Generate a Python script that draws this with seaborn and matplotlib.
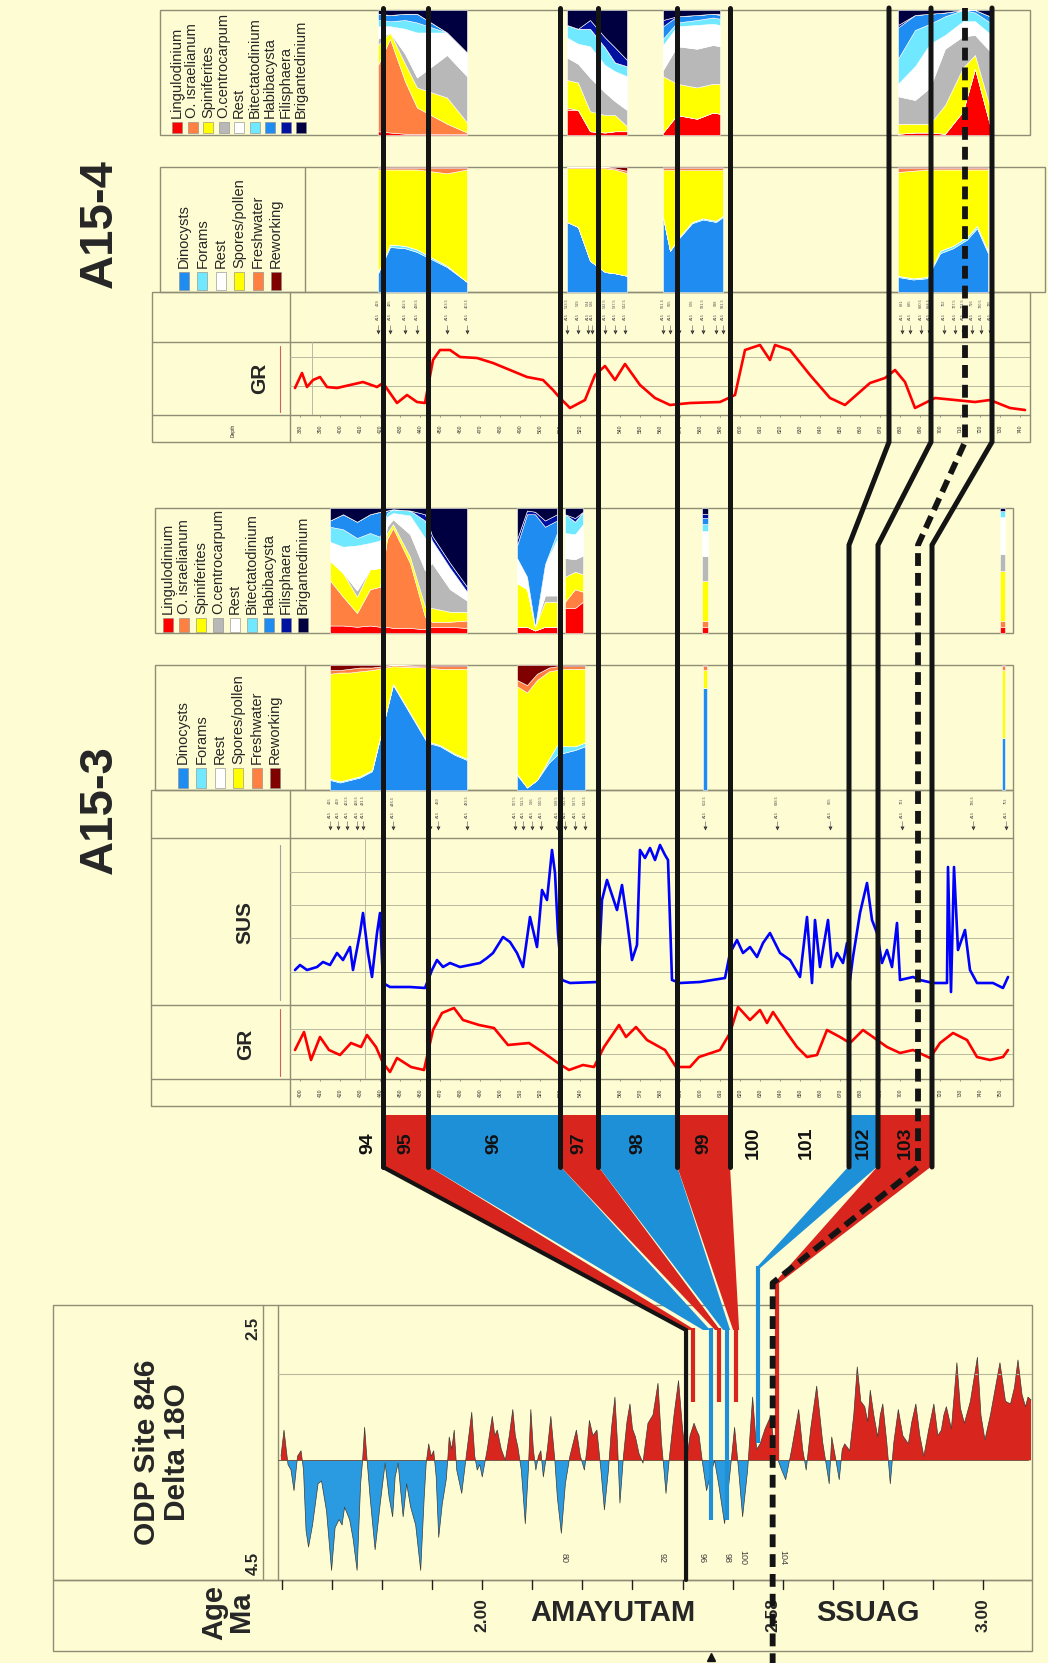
import numpy as np
import matplotlib
matplotlib.use("Agg")
import matplotlib.pyplot as plt
import seaborn as sns
from matplotlib.patches import Rectangle, Polygon
from matplotlib import font_manager as fm

# ======================= DATA =======================
SPECIES = ['Lingulodinium', 'O. israelianum', 'Spiniferites', 'O.centrocarpum', 'Rest',
           'Bitectatodinium', 'Habibacysta', 'Filisphaera', 'Brigantedinium']
SPECIES_COLORS = ['#FF0000', '#FF8040', '#FFFF00', '#B8B8B8', '#FFFFFF',
                  '#70E8FF', '#1E8CF0', '#0010A0', '#000040']
GROUPS = ['Dinocysts', 'Forams', 'Rest', 'Spores/pollen', 'Freshwater', 'Reworking']
GROUP_COLORS = ['#1E8CF0', '#70E8FF', '#FFFFFF', '#FFFF00', '#FF8040', '#800000']

# ---- A15-4 dinocyst species (%), per sampled interval ----
A154_SP_DEPTH = [[419, 425, 432.5, 438.5, 453.5, 463.5],
                 [513.5, 519, 525, 532.5, 537.5, 543.5],
                 [561.5, 568.5, 578.5, 586.5, 590],
                 [679, 687.5, 695, 702.5, 711.5, 717.5, 725]]
A154_SP_PCT = [
    [[3, 53, 16, 5, 10, 5, 5, 0, 3], [2, 75, 5, 0, 5, 4, 5, 0, 4], [1, 42, 14, 8, 20, 7, 5, 0, 3],
     [1, 21, 16, 8, 36, 8, 7, 0, 3], [1, 8, 21, 34, 18, 0, 0, 0, 18], [1, 1, 8, 37, 19, 0, 0, 0, 34]],
    [[20, 2, 22, 18, 16, 10, 0, 0, 12], [20, 0, 22, 15, 16, 12, 0, 0, 15], [3, 0, 16, 27, 25, 14, 0, 7, 8],
     [2, 0, 14, 18, 22, 14, 0, 8, 22], [3, 0, 13, 11, 24, 7, 0, 12, 30], [3, 0, 4, 13, 27, 8, 0, 5, 40]],
    [[2, 0, 45, 5, 20, 5, 10, 5, 8], [16, 0, 25, 30, 16, 3, 5, 0, 5], [13, 0, 25, 31, 19, 4, 4, 0, 4],
     [18, 0, 23, 31, 17, 5, 3, 0, 3], [17, 0, 24, 30, 17, 5, 3, 1, 3]],
    [[1, 0, 8, 22, 10, 20, 25, 2, 12], [2, 0, 7, 19, 27, 29, 12, 0, 4], [2, 0, 7, 29, 35, 16, 8, 0, 3],
     [1, 0, 23, 45, 11, 15, 3, 0, 2], [19, 0, 35, 25, 12, 9, 0, 0, 0], [53, 0, 11, 16, 11, 7, 2, 0, 0],
     [8, 0, 14, 45, 14, 9, 5, 0, 5]],
]
# ---- A15-4 palynomorph groups (%) ----
A154_PAL_DEPTH = [[419, 425, 432.5, 438.5, 453.5, 463.5],
                  [513.5, 519, 525, 532.5, 537.5, 543.5],
                  [561.5, 565, 569.5, 576, 581.5, 588, 591.5],
                  [679, 686.5, 693.5, 700, 706.5, 713.5, 718.5, 724]]
A154_PAL_PCT = [
    [[15, 1, 0, 82, 1, 1], [36, 2, 0, 60, 1, 1], [35, 2, 0, 61, 1, 1], [32, 2, 0, 64, 1, 1],
     [20, 1, 0, 74, 4, 1], [8, 0, 0, 90, 1, 1]],
    [[56, 0, 0, 43, 1, 0], [52, 0, 0, 47, 1, 0], [25, 0, 0, 74, 1, 0], [16, 0, 0, 83, 1, 0],
     [15, 0, 0, 83, 1, 1], [13, 0, 0, 82, 2, 3]],
    [[60, 0, 0, 38, 1, 1], [33, 0, 0, 65, 1, 1], [43, 1, 0, 54, 1, 1], [55, 1, 0, 42, 1, 1],
     [58, 1, 0, 39, 1, 1], [56, 1, 0, 41, 1, 1], [60, 1, 0, 37, 1, 1]],
    [[12, 1, 0, 83, 3, 1], [10, 1, 0, 86, 2, 1], [11, 1, 0, 86, 1, 1], [31, 2, 0, 65, 1, 1],
     [35, 2, 0, 61, 1, 1], [42, 2, 0, 54, 1, 1], [51, 2, 0, 45, 1, 1], [31, 2, 0, 65, 1, 1]],
]
A154_SAMPLES = [419, 425, 432.5, 438.5, 453.5, 463.5, 513.5, 519, 524, 526, 532.5, 537.5, 542.5,
                561.5, 565, 569.5, 576, 581.5, 588, 591.5, 681, 685, 690.5, 694.5, 702, 707.5,
                711.5, 716, 720.5, 725]
# ---- A15-4 gamma ray ----
A154_GR_DEPTH = [377.5, 381, 383.5, 386.5, 390, 393.5, 398.5, 405, 411.5, 418.5, 421.5, 428.5, 433.5,
                 438.5, 442.5, 446.5, 450, 455, 460, 468.5, 476.5, 485, 493.5, 501.5, 506.5, 510,
                 515, 522.5, 527.5, 532.5, 537.5, 542.5, 550, 557.5, 565, 575, 590, 597.5, 602.5,
                 610, 615, 617.5, 625, 635, 645, 652.5, 665, 672.5, 677.5, 682.5, 687.5, 697.5,
                 707.5, 717.5, 725, 735, 742.5]
A154_GR_VAL = [54, 84, 56, 70, 76, 56, 54, 60, 66, 56, 64, 24, 40, 26, 24, 110, 130, 130, 116, 114,
               104, 90, 76, 70, 50, 34, 14, 30, 80, 98, 70, 102, 60, 34, 20, 24, 26, 40, 130, 140,
               110, 140, 130, 80, 34, 20, 64, 74, 90, 66, 14, 34, 30, 26, 30, 14, 10]

# ---- A15-3 dinocyst species (%) ----
A153_SP_DEPTH = [[415, 421.5, 428.5, 435, 440, 443.5, 446.5, 455, 462.5, 466, 475, 483.5],
                 [508.5, 513.5, 517.5, 522.5, 528.5],
                 [532.5, 537.5, 541.5],
                 [601, 604],
                 [750, 752.5]]
A153_SP_PCT = [
    [[6, 36, 16, 0, 15, 12, 5, 0, 10], [6, 23, 19, 0, 21, 14, 12, 0, 5], [5, 11, 13, 5, 36, 6, 13, 0, 11],
     [6, 29, 16, 0, 21, 8, 15, 0, 5], [5, 32, 15, 0, 22, 3, 20, 0, 3], [5, 70, 5, 5, 8, 3, 2, 0, 2],
     [4, 80, 3, 4, 5, 3, 0, 0, 1], [4, 52, 5, 18, 15, 4, 0, 0, 2], [3, 10, 8, 29, 26, 14, 0, 5, 5],
     [5, 4, 11, 36, 18, 0, 0, 4, 22], [5, 4, 8, 18, 17, 0, 0, 4, 44], [4, 6, 7, 9, 7, 0, 0, 4, 63]],
    [[5, 0, 35, 0, 20, 0, 10, 5, 25], [5, 0, 30, 0, 10, 0, 50, 3, 2], [2, 0, 3, 0, 0, 0, 90, 2, 3],
     [5, 0, 20, 5, 25, 0, 30, 5, 10], [5, 0, 20, 5, 45, 5, 10, 5, 5]],
    [[20, 5, 20, 15, 20, 15, 0, 0, 5], [20, 15, 14, 10, 20, 10, 0, 3, 8], [25, 8, 14, 15, 25, 10, 0, 0, 3]],
    [[5, 5, 32, 20, 20, 5, 5, 3, 5], [5, 5, 32, 20, 20, 5, 5, 3, 5]],
    [[5, 5, 40, 13, 30, 5, 0, 0, 2], [5, 5, 40, 13, 30, 5, 0, 0, 2]],
]
# ---- A15-3 palynomorph groups (%) ----
A153_PAL_DEPTH = [[415, 420, 425, 430, 436, 446.5, 463.5, 470, 477.5, 483.5],
                  [508.5, 513.5, 518.5, 524.5, 528.5, 532.5, 537.5, 542.5],
                  [601.5, 603.5],
                  [751, 752.5]]
A153_PAL_PCT = [
    [[8, 1, 0, 84, 3, 4], [6, 1, 0, 87, 2, 4], [8, 1, 0, 85, 3, 3], [10, 1, 0, 84, 3, 2],
     [15, 1, 0, 80, 2, 2], [84, 1, 0, 14, 1, 0], [38, 1, 0, 59, 1, 1], [35, 1, 0, 61, 2, 1],
     [28, 1, 0, 68, 2, 1], [24, 1, 0, 72, 2, 1]],
    [[12, 1, 0, 70, 5, 12], [2, 0, 0, 76, 6, 16], [8, 0, 0, 80, 5, 7], [22, 3, 0, 70, 3, 2],
     [28, 8, 0, 60, 3, 1], [30, 5, 0, 62, 2, 1], [32, 3, 0, 62, 2, 1], [35, 3, 0, 59, 2, 1]],
    [[82, 0, 0, 14, 3, 1], [82, 0, 0, 14, 3, 1]],
    [[42, 0, 0, 54, 3, 1], [42, 0, 0, 54, 3, 1]],
]
A153_SAMPLES = [415, 419, 423.5, 428.5, 431.5, 446.5, 465, 469, 483.5, 507.5, 511.5, 516, 520.5,
                528.5, 532.5, 537.5, 542.5, 602.5, 638.5, 665, 701, 736.5, 753]
# ---- A15-3 susceptibility ----
A153_SUS_DEPTH = [397.5, 400, 403.5, 408.5, 411.5, 415, 418.5, 421.5, 425, 426.5, 430, 431.5, 434,
                  436, 438.5, 440, 441.5, 445, 455, 462.5, 466, 468.5, 471.5, 475, 480, 485, 490,
                  493.5, 496.5, 501.5, 505, 508.5, 511.5, 515, 518.5, 521, 523.5, 526, 527.5, 529,
                  531, 535, 549, 551, 553.5, 556, 558.5, 561, 563.5, 566, 568.5, 570, 572.5, 575,
                  577.5, 580, 582.5, 584, 586, 590, 600, 612.5, 615, 618.5, 621.5, 625, 628.5,
                  631.5, 635, 640, 645, 650, 653.5, 656, 657.5, 660, 664, 666, 668.5, 671.5, 673.5,
                  675, 676.5, 680, 683.5, 686, 688.5, 691, 693.5, 696, 698.5, 700, 706.5, 710,
                  716.5, 723.5, 724, 725.5, 727, 729, 732.5, 735, 738.5, 746.5, 751.5, 754]
A153_SUS_VAL = [10.5, 12.0, 10.5, 11.4, 12.9, 12.0, 15.6, 13.5, 17.4, 10.5, 21.6, 27.6, 15.6, 8.4,
                21.6, 27.6, 6.6, 5.4, 5.4, 5.1, 10.5, 13.5, 11.4, 12.6, 11.4, 12.0, 12.6, 14.1, 15.6,
                20.4, 18.9, 15.6, 11.4, 26.4, 17.4, 34.5, 31.5, 46.5, 39.6, 21.6, 7.5, 6.6, 6.9,
                31.5, 37.5, 33.0, 28.5, 36.0, 25.5, 13.5, 18.0, 46.5, 44.1, 47.1, 43.5, 48.0, 45.0,
                43.5, 7.5, 6.6, 6.9, 8.1, 15.6, 19.5, 15.6, 17.4, 14.4, 18.6, 21.6, 15.6, 13.5, 8.4,
                26.4, 6.6, 25.5, 11.4, 25.5, 11.4, 15.6, 12.6, 18.6, 7.5, 14.4, 27.6, 36.6, 25.5,
                21.6, 12.6, 16.5, 11.4, 24.6, 7.5, 8.4, 7.5, 6.6, 6.6, 41.4, 3.9, 41.4, 16.5, 22.5,
                10.5, 6.6, 6.6, 5.1, 8.4]
# ---- A15-3 gamma ray ----
A153_GR_DEPTH = [397.5, 402, 405.5, 410, 414.5, 420, 425.5, 430.5, 433.5, 438, 441.5, 445, 448.5,
                 455.5, 462, 466.5, 471, 477, 481.5, 489.5, 497, 504, 514.5, 522, 529, 534.5,
                 541.5, 547, 552, 559.5, 563, 568, 573.5, 582.5, 588, 595, 599.5, 610, 615, 619,
                 625, 630, 633.5, 636.5, 643.5, 648.5, 653.5, 658.5, 663.5, 670, 675, 681.5,
                 686.5, 693.5, 700, 706.5, 715, 720, 726.5, 733.5, 738.5, 745, 751.5, 754]
A153_GR_VAL = [58, 94, 38, 84, 58, 48, 72, 64, 88, 64, 32, 14, 42, 24, 18, 98, 132, 142, 118, 108,
               102, 68, 72, 52, 32, 18, 28, 24, 64, 108, 84, 104, 78, 58, 24, 24, 44, 58, 92, 144,
               118, 138, 112, 134, 92, 64, 44, 48, 98, 84, 72, 98, 84, 64, 52, 58, 42, 72, 92, 78,
               44, 38, 44, 58]

# ---- ODP Site 846 delta 18O ----
D18O_AGE = [1.598, 1.604, 1.612, 1.618, 1.624, 1.631, 1.638, 1.643, 1.648, 1.653, 1.661, 1.672,
            1.679, 1.689, 1.699, 1.706, 1.714, 1.720, 1.725, 1.735, 1.742, 1.750, 1.757, 1.761,
            1.765, 1.770, 1.776, 1.786, 1.796, 1.806, 1.814, 1.821, 1.826, 1.832, 1.837, 1.842,
            1.849, 1.857, 1.867, 1.877, 1.884, 1.888, 1.893, 1.898, 1.903, 1.908, 1.913, 1.920,
            1.928, 1.931, 1.934, 1.939, 1.944, 1.949, 1.959, 1.968, 1.979, 1.985, 1.990, 1.995,
            2.000, 2.010, 2.020, 2.025, 2.030, 2.038, 2.046, 2.054, 2.061, 2.066, 2.071, 2.078,
            2.086, 2.092, 2.097, 2.102, 2.107, 2.112, 2.117, 2.122, 2.130, 2.137, 2.145, 2.150,
            2.158, 2.166, 2.175, 2.188, 2.196, 2.204, 2.209, 2.214, 2.221, 2.229, 2.237, 2.244,
            2.252, 2.258, 2.265, 2.270, 2.275, 2.282, 2.289, 2.295, 2.300, 2.306, 2.313, 2.321,
            2.326, 2.331, 2.341, 2.351, 2.358, 2.363, 2.367, 2.374, 2.383, 2.392, 2.400, 2.408,
            2.415, 2.423, 2.428, 2.433, 2.440, 2.448, 2.455, 2.464, 2.472, 2.484, 2.494, 2.504,
            2.512, 2.520, 2.530, 2.540, 2.548, 2.555, 2.565, 2.576, 2.584, 2.591, 2.598, 2.606,
            2.618, 2.632, 2.640, 2.647, 2.656, 2.668, 2.680, 2.693, 2.698, 2.705, 2.713, 2.719,
            2.724, 2.734, 2.742, 2.749, 2.756, 2.764, 2.770, 2.775, 2.782, 2.790, 2.795, 2.800,
            2.808, 2.815, 2.822, 2.831, 2.840, 2.851, 2.858, 2.866, 2.874, 2.882, 2.892, 2.902,
            2.910, 2.917, 2.922, 2.927, 2.937, 2.948, 2.955, 2.963, 2.975, 2.989, 2.996, 3.004,
            3.015, 3.025, 3.034, 3.045, 3.055, 3.063, 3.070, 3.078, 3.085, 3.090, 3.096]
D18O_VAL = [3.60, 3.41, 3.66, 3.70, 3.85, 3.60, 3.56, 3.70, 4.14, 4.26, 4.10, 3.80, 3.78, 4.00,
            4.43, 4.12, 4.06, 4.10, 3.97, 4.06, 4.20, 4.43, 3.80, 3.63, 3.39, 3.63, 3.90, 4.28,
            3.95, 3.65, 3.90, 4.04, 3.75, 3.65, 3.85, 4.04, 3.80, 3.97, 4.10, 4.43, 3.90, 3.65,
            3.51, 3.60, 3.56, 3.75, 4.19, 3.95, 3.77, 3.63, 3.46, 3.55, 3.41, 3.70, 3.87, 3.60,
            3.28, 3.60, 3.70, 3.66, 3.75, 3.55, 3.31, 3.45, 3.41, 3.55, 3.63, 3.45, 3.26, 3.45,
            3.53, 3.70, 4.09, 3.70, 3.26, 3.55, 3.70, 3.60, 3.56, 3.75, 3.55, 3.31, 3.63, 3.90,
            4.16, 3.80, 3.60, 3.41, 3.60, 3.70, 3.55, 3.34, 3.45, 3.41, 3.70, 3.99, 3.70, 3.40,
            3.17, 3.50, 3.94, 3.60, 3.35, 3.22, 3.40, 3.46, 3.58, 3.65, 3.50, 3.36, 3.30, 3.07,
            3.50, 3.70, 3.87, 3.60, 3.30, 3.05, 3.40, 3.63, 3.45, 3.36, 3.41, 3.45, 3.65, 3.85,
            3.75, 3.63, 3.80, 4.09, 3.75, 3.39, 3.70, 4.04, 3.70, 3.17, 3.55, 3.51, 3.40, 3.31,
            3.55, 3.63, 3.70, 3.77, 3.55, 3.26, 3.55, 3.70, 3.40, 3.09, 3.50, 3.80, 3.46, 3.60,
            3.77, 3.55, 3.51, 3.56, 3.30, 2.95, 3.20, 3.24, 3.35, 3.12, 3.30, 3.46, 3.30, 3.22,
            3.50, 3.80, 3.50, 3.26, 3.45, 3.51, 3.35, 3.22, 3.45, 3.60, 3.40, 3.22, 3.45, 3.41,
            3.30, 3.24, 3.40, 2.92, 3.25, 3.36, 3.20, 2.88, 3.30, 3.48, 3.30, 3.10, 2.92, 3.20,
            3.22, 3.10, 2.90, 3.15, 3.24, 3.17, 3.19]
D18O_BASE = 3.63
ODP_STAGE_LABELS = ['80', '92', '96', '98', '100', '104']
ODP_STAGE_AGES = [2.163, 2.36, 2.44, 2.49, 2.52, 2.60]

AGE_TICKS = [1.6, 1.7, 1.8, 1.9, 2.0, 2.1, 2.2, 2.3, 2.4, 2.5, 2.6, 2.7, 2.8, 2.9, 3.0, 3.1]
AGE_LABELS = ['2.00', '2.58', '3.00']
AGE_LABEL_POS = [2.00, 2.58, 3.00]
CHRON_LABELS = ['AMAYUTAM', 'SSUAG']
CHRON_POS = [2.26, 2.77]
ARROW_AGE = 2.457

# ---- correlation (MIS boundaries) ----
CORR_A153 = [441.5, 464, 530, 549, 588.5, 615, 674.5, 689, 716]
CORR_A154 = [421.5, 444, 510, 529, 568.5, 595, 674.5, 695.5, 726]
MIS94_AGE = 2.407
GM_A153, GM_A154, GM_AGE = 709, 712.5, 2.58           # Gauss/Matuyama (dashed)
MIS_LABELS = ['94', '95', '96', '97', '98', '99', '100', '101', '102', '103']
MIS_LABEL_DEPTH = [434, 452.75, 497, 539.5, 568.75, 601.75, 626.5, 653, 681.75, 702.5]
BLOCK_TOP = [441.5, 464, 530, 549, 588.5, 674.5, 689]
BLOCK_BOT = [464, 530, 549, 588.5, 615, 689, 716]
BLOCK_IS_WARM = [True, False, True, False, True, False, True]
WEDGE_AGE_LO = [2.409, 2.441, 2.465, 2.481, 2.501, 2.547, 2.583]
WEDGE_AGE_HI = [2.425, 2.455, 2.475, 2.495, 2.513, 2.555, 2.593]
STRIPE_AGE = [2.421, 2.456, 2.472, 2.489, 2.507, 2.551, 2.588]

# ======================= STYLE / LAYOUT =======================
sns.set_theme(style='white')
names = {f.name for f in fm.fontManager.ttflist}
NARROW = 'Liberation Sans Narrow' if 'Liberation Sans Narrow' in names else 'Liberation Sans'
plt.rcParams['font.family'] = ['Liberation Sans', 'DejaVu Sans']

W, H = 1048, 1663
BG = '#FEFCD2'
FRAME = '#8E8E76'
RED = '#D8261E'
BLUE = '#1E90D8'
BLACK = '#141414'

fig = plt.figure(figsize=(W / 100, H / 100), dpi=100)
fig.patch.set_facecolor(BG)


def frac(l, t, r, b):
    return [l / W, 1 - b / H, (r - l) / W, (b - t) / H]


def px_axes(z):
    a = fig.add_axes([0, 0, 1, 1], zorder=z)
    a.set_xlim(0, W)
    a.set_ylim(H, 0)
    a.axis('off')
    return a


bg = px_axes(-10)
ov = px_axes(30)


def data_ax(l, t, r, b, xlim, ylim):
    a = fig.add_axes(frac(l, t, r, b), zorder=0)
    a.set_xlim(*xlim)
    a.set_ylim(*ylim)
    a.axis('off')
    return a


def frame(l, t, r, b, lw=1.0):
    bg.add_patch(Rectangle((l, t), r - l, b - t, fill=False, ec=FRAME, lw=lw))


def vdiv(x, t, b, color=FRAME, lw=1.0):
    bg.plot([x, x], [t, b], color=color, lw=lw)


A153_X = (290, 1013)
A154_X = (290, 1030)
A153_XLIM = (250 + A153_X[0] / 2, 250 + A153_X[1] / 2)
A154_XLIM = (230 + A154_X[0] / 2, 230 + A154_X[1] / 2)
ODP_X = (278, 1032)
ODP_XLIM = (1.592, 3.098)

# ---------- frames ----------
frame(160, 10, 1030, 135)            # A15-4 species
frame(160, 167, 1045, 292)           # A15-4 groups
vdiv(305, 167, 292)
frame(152, 292, 1030, 442)           # A15-4 sample / GR / depth rows
bg.plot([152, 1030], [342, 342], color=FRAME, lw=1)
bg.plot([152, 1030], [415, 415], color=FRAME, lw=1)
vdiv(290, 292, 442)
vdiv(280, 346, 412, color='#D06060', lw=0.8)

frame(155, 508, 1013, 633)           # A15-3 species
frame(155, 665, 1013, 790)           # A15-3 groups
vdiv(305, 665, 790)
frame(151, 790, 1013, 1106)          # A15-3 rows
for yy in (838, 1005, 1079):
    bg.plot([151, 1013], [yy, yy], color=FRAME, lw=1)
vdiv(290, 790, 1106)
vdiv(280, 845, 1000, color='#A0A0A0', lw=0.8)
vdiv(280, 1009, 1076, color='#D06060', lw=0.8)

frame(53, 1305, 1032, 1580)          # ODP
vdiv(263, 1305, 1580)
vdiv(278, 1305, 1580)
frame(53, 1580, 1032, 1651)          # Age

# ---------- titles and labels ----------
TITLE_FAM = [NARROW, 'DejaVu Sans']
bg.text(100, 224, 'A15-4', rotation=90, ha='center', va='center', fontsize=34,
        fontweight='bold', family=TITLE_FAM)
bg.text(100, 810, 'A15-3', rotation=90, ha='center', va='center', fontsize=34,
        fontweight='bold', family=TITLE_FAM)
bg.text(162, 1452, 'ODP Site 846\nDelta 18O', rotation=90, ha='center', va='center',
        fontsize=21.5, fontweight='bold', linespacing=1.05, family=TITLE_FAM)
bg.text(228, 1612, 'Age\nMa', rotation=90, ha='center', va='center', fontsize=21,
        fontweight='bold', linespacing=0.95, family=TITLE_FAM)
bg.text(253, 1328, '2.5', rotation=90, ha='center', va='center', fontsize=12, fontweight='bold')
bg.text(253, 1563, '4.5', rotation=90, ha='center', va='center', fontsize=12, fontweight='bold')
bg.text(260, 378, 'GR', rotation=90, ha='center', va='center', fontsize=15, fontweight='bold')
bg.text(246, 1044, 'GR', rotation=90, ha='center', va='center', fontsize=15, fontweight='bold')
bg.text(245, 922, 'SUS', rotation=90, ha='center', va='center', fontsize=15, fontweight='bold')
bg.text(233, 430, 'Depth', rotation=90, ha='center', va='center', fontsize=3.5)

# ---------- legends ----------
def legend(names_, colors, x0, dx, ytop, ybot, fs):
    for i, (n, c) in enumerate(zip(names_, colors)):
        xc = x0 + i * dx
        bg.add_patch(Rectangle((xc - 5, ytop), 10, ybot - ytop, fc=c, ec='#888888', lw=0.4))
        bg.text(xc, ytop - 4, n, rotation=90, ha='center', va='bottom', fontsize=fs)


legend(SPECIES, SPECIES_COLORS, 177, 15.5, 122, 133, 10.5)
legend(GROUPS, GROUP_COLORS, 184, 18.4, 272, 290, 10.5)
legend(SPECIES, SPECIES_COLORS, 167.5, 16.9, 618, 632, 10.5)
legend(GROUPS, GROUP_COLORS, 183, 18.4, 768, 788, 10.5)

# ---------- stacked panels ----------
def stacked(ax, depths, pcts, colors):
    for d, p in zip(depths, pcts):
        arr = np.array(p, dtype=float).T
        ax.stackplot(d, arr, colors=colors, lw=0.4)


ax_sp4 = data_ax(A154_X[0], 10, A154_X[1], 135, A154_XLIM, (0, 100))
stacked(ax_sp4, A154_SP_DEPTH, A154_SP_PCT, SPECIES_COLORS)
ax_pal4 = data_ax(A154_X[0], 167, A154_X[1], 292, A154_XLIM, (0, 100))
stacked(ax_pal4, A154_PAL_DEPTH, A154_PAL_PCT, GROUP_COLORS)
ax_sp3 = data_ax(A153_X[0], 508, A153_X[1], 633, A153_XLIM, (0, 100))
stacked(ax_sp3, A153_SP_DEPTH, A153_SP_PCT, SPECIES_COLORS)
ax_pal3 = data_ax(A153_X[0], 665, A153_X[1], 790, A153_XLIM, (0, 100))
stacked(ax_pal3, A153_PAL_DEPTH, A153_PAL_PCT, GROUP_COLORS)

# ---------- sample rows (tiny sample labels + markers) ----------
def sample_row(top, bot, xr, xlim, samples):
    a = data_ax(xr[0], top, xr[1], bot, xlim, (0, 1))
    a.vlines(samples, 0.2, 0.35, color='#707070', lw=0.5)
    for s in samples:
        a.text(s, 0.78, f'{s:g}', rotation=90, ha='center', va='center', fontsize=2.8,
               color='#505050')
        a.text(s, 0.5, 'A15', rotation=90, ha='center', va='center', fontsize=2.8,
               color='#505050')
    sns.scatterplot(x=samples, y=[0.2] * len(samples), ax=a, marker='v', s=8,
                    color='#202020', linewidth=0, legend=False)
    a.axis('off')


sample_row(292, 342, A154_X, A154_XLIM, A154_SAMPLES)
sample_row(790, 838, A153_X, A153_XLIM, A153_SAMPLES)

# ---------- logs ----------
GRID = '#B9B9A0'
ax_gr4 = data_ax(A154_X[0], 342, A154_X[1], 415, A154_XLIM, (0, 146))
for v in (58, 116):
    ax_gr4.axhline(v, color=GRID, lw=0.7)
ax_gr4.axvline(386, color=GRID, lw=0.7)
sns.lineplot(x=A154_GR_DEPTH, y=A154_GR_VAL, ax=ax_gr4, color='#FF0000', lw=1.9,
             sort=False, estimator=None)
ax_gr4.axis('off')

ax_sus3 = data_ax(A153_X[0], 838, A153_X[1], 1005, A153_XLIM, (0, 50.1))
for v in (10, 20, 30, 40):
    ax_sus3.axhline(v, color=GRID, lw=0.7)
ax_sus3.axvline(432.5, color=GRID, lw=0.7)
sns.lineplot(x=A153_SUS_DEPTH, y=A153_SUS_VAL, ax=ax_sus3, color='#0000FF', lw=1.9,
             sort=False, estimator=None)
ax_sus3.axis('off')

ax_gr3 = data_ax(A153_X[0], 1005, A153_X[1], 1079, A153_XLIM, (0, 148))
for v in (50, 100):
    ax_gr3.axhline(v, color=GRID, lw=0.7)
ax_gr3.axvline(432.5, color=GRID, lw=0.7)
sns.lineplot(x=A153_GR_DEPTH, y=A153_GR_VAL, ax=ax_gr3, color='#FF0000', lw=1.9,
             sort=False, estimator=None)
ax_gr3.axis('off')

# ---------- depth rows ----------
for (x0, x1), xlim, top, bot, ticks in [
        (A154_X, A154_XLIM, 415, 442, list(range(380, 741, 10))),
        (A153_X, A153_XLIM, 1079, 1106, list(range(400, 751, 10)))]:
    a = data_ax(x0, top, x1, bot, xlim, (0, 1))
    for t in ticks:
        a.text(t, 0.5, str(t), rotation=90, ha='center', va='center', fontsize=3.6,
               color='#303030')
        a.plot([t, t], [0.92, 1.0], color='#808080', lw=0.5)

# ---------- ODP delta 18O ----------
ax_odp = data_ax(ODP_X[0], 1305, ODP_X[1], 1580, ODP_XLIM, (4.5, 2.5))
ax_odp.axhline(3.0, color=GRID, lw=0.8)
age = np.array(D18O_AGE)
val = np.array(D18O_VAL)
ax_odp.fill_between(age, val, D18O_BASE, where=val <= D18O_BASE, interpolate=True,
                    color=RED, lw=0)
ax_odp.fill_between(age, val, D18O_BASE, where=val >= D18O_BASE, interpolate=True,
                    color='#2A9BE0', lw=0)
sns.lineplot(x=D18O_AGE, y=D18O_VAL, ax=ax_odp, color='#3A3A3A', lw=0.5, sort=False,
             estimator=None)
ax_odp.axhline(D18O_BASE, color='#6A4A3A', lw=0.6, xmin=0.0, xmax=0.995)
for lab, a_ in zip(ODP_STAGE_LABELS, ODP_STAGE_AGES):
    ax_odp.text(a_, 4.34, lab, rotation=270, ha='center', va='center', fontsize=6.5,
                color='#404040')
ax_odp.axis('off')

# ---------- Age axis ----------
ax_age = data_ax(ODP_X[0], 1580, ODP_X[1], 1651, ODP_XLIM, (0, 1))
for t in AGE_TICKS:
    ax_age.plot([t, t], [1.0, 0.87], color='#202020', lw=1.0)
for lab, p in zip(AGE_LABELS, AGE_LABEL_POS):
    ax_age.text(p, 0.5, lab, rotation=90, ha='center', va='center', fontsize=12.5,
                fontweight='bold')
for lab, p in zip(CHRON_LABELS, CHRON_POS):
    ax_age.text(p, 0.53, lab, ha='center', va='center', fontsize=21, fontweight='bold',
                family=TITLE_FAM)
ax_age.axis('off')

# ======================= CORRELATION OVERLAY =======================
def ox(ax, xv):
    d = ax.transData.transform((xv, 0.0))
    return ov.transData.inverted().transform(d)[0]


Y_TOP, Y_A154_BOT, Y_A153_TOP = 8, 442, 545
Y_BLK_TOP, Y_BLK_BOT = 1115, 1167
Y_KNEE_UP, Y_KNEE_102, Y_KNEE_103 = 1330, 1268, 1283

# MIS blocks and wedges
knees = [Y_KNEE_UP] * 5 + [Y_KNEE_102, Y_KNEE_103]
stripe_bottom = [1402, 1520, 1402, 1520, 1402, 1443, 1460]
for i in range(len(BLOCK_TOP)):
    col = RED if BLOCK_IS_WARM[i] else BLUE
    xa, xb = ox(ax_gr3, BLOCK_TOP[i]), ox(ax_gr3, BLOCK_BOT[i])
    ov.add_patch(Rectangle((xa, Y_BLK_TOP), xb - xa, Y_BLK_BOT - Y_BLK_TOP, fc=col, ec='none',
                           zorder=1))
    ya = knees[i]
    oa, ob = ox(ax_odp, WEDGE_AGE_LO[i]), ox(ax_odp, WEDGE_AGE_HI[i])
    ov.add_patch(Polygon([(xa, Y_BLK_BOT - 1), (xb, Y_BLK_BOT - 1), (ob, ya), (oa, ya)],
                         closed=True, fc=col, ec='none', zorder=1))
    xs = ox(ax_odp, STRIPE_AGE[i])
    ov.plot([xs, xs], [ya - 2, stripe_bottom[i]], color=col, lw=3.0, zorder=2,
            solid_capstyle='butt')

for lab, d in zip(MIS_LABELS, MIS_LABEL_DEPTH):
    ov.text(ox(ax_gr3, d), 1143, lab, rotation=90, ha='center', va='center', fontsize=14,
            fontweight='bold', color='#111111', zorder=6)

# boundary lines
for d3, d4 in zip(CORR_A153, CORR_A154):
    x3, x4 = ox(ax_gr3, d3), ox(ax_gr4, d4)
    ov.plot([x4, x4, x3, x3], [Y_TOP, Y_A154_BOT, Y_A153_TOP, Y_BLK_BOT], color=BLACK,
            lw=3.6, zorder=5, solid_joinstyle='miter')

x94 = ox(ax_gr3, CORR_A153[0])
xo94 = ox(ax_odp, MIS94_AGE)
ov.plot([x94, xo94, xo94], [Y_BLK_BOT, Y_KNEE_UP, 1580], color=BLACK, lw=3.0, zorder=5,
        solid_joinstyle='miter')

xg3, xg4, xgo = ox(ax_gr3, GM_A153), ox(ax_gr4, GM_A154), ox(ax_odp, GM_AGE)
ov.plot([xg4, xg4, xg3, xg3, xgo, xgo],
        [Y_TOP, Y_A154_BOT, Y_A153_TOP, Y_BLK_BOT, Y_KNEE_103, H],
        color=BLACK, lw=4.2, ls=(0, (2.2, 1.2)), zorder=6, dash_capstyle='butt')

# small arrow below the age scale
xa_ = ox(ax_odp, ARROW_AGE)
ov.plot([xa_], [1657], marker='^', ms=6, color=BLACK, zorder=6)

fig.savefig('out.png', dpi=100, facecolor=BG)
